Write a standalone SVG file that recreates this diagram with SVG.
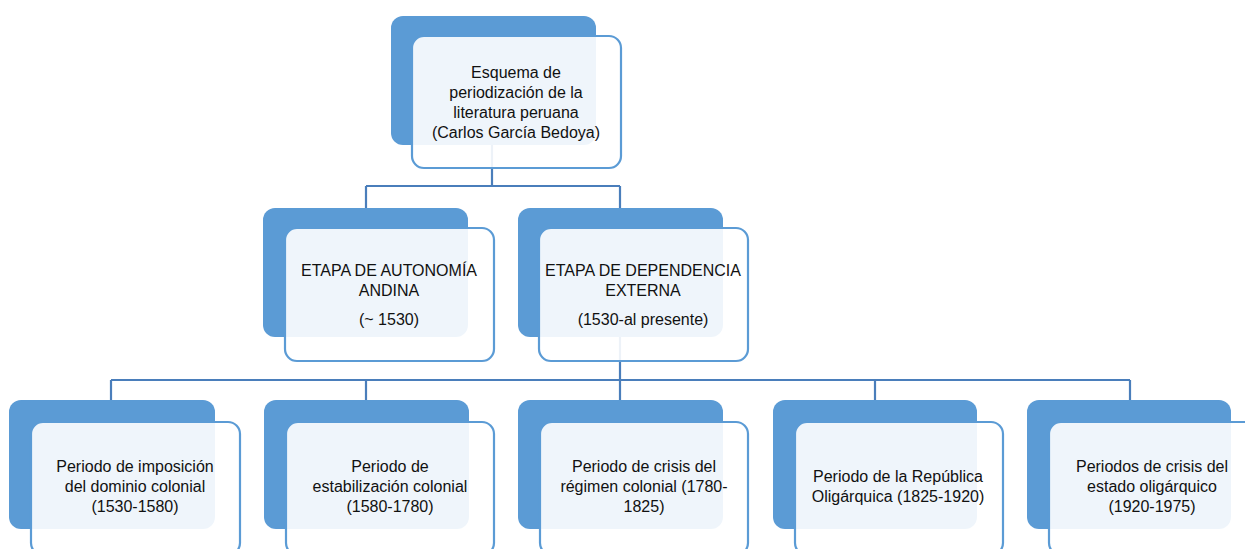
<svg xmlns="http://www.w3.org/2000/svg" width="1245" height="549" viewBox="0 0 1245 549">
<style>
.dk{fill:#5B9BD5;}
.lt{fill:#FFFFFF;fill-opacity:0.9;stroke:#5B9BD5;stroke-width:2.2;}
.cn{fill:none;stroke:#4A7EBB;stroke-width:2.2;}
text{font-family:"Liberation Sans",Arial,sans-serif;font-size:16px;fill:#111111;text-anchor:middle;}
</style>
<rect width="1245" height="549" fill="#FFFFFF"/>
<g id="connectors">
<path class="cn" d="M492,145 V186 M366,186 H620 M366,186 V209 M620,186 V209"/>
<path class="cn" d="M620,337 V380 M111,380 H1130 M111,380 V401 M366,380 V401 M620,380 V401 M875,380 V401 M1130,380 V401"/>
</g>
<g id="root">
<rect class="dk" x="391" y="16" width="205" height="129" rx="12"/>
<rect class="lt" x="412" y="36" width="209" height="132" rx="12"/>
<text x="516" y="78">Esquema de</text>
<text x="516" y="98">periodización de la</text>
<text x="516" y="118">literatura peruana</text>
<text x="516" y="138">(Carlos García Bedoya)</text>
</g>
<g id="autonomia">
<rect class="dk" x="263" y="208" width="205" height="129" rx="12"/>
<rect class="lt" x="285" y="228" width="209" height="133" rx="12"/>
<text x="389" y="276">ETAPA DE AUTONOMÍA</text>
<text x="389" y="296">ANDINA</text>
<text x="389" y="325">(~ 1530)</text>
</g>
<g id="dependencia">
<rect class="dk" x="518" y="208" width="205" height="129" rx="12"/>
<rect class="lt" x="539" y="228" width="209" height="133" rx="12"/>
<text x="643" y="276">ETAPA DE DEPENDENCIA</text>
<text x="643" y="296">EXTERNA</text>
<text x="643" y="325">(1530-al presente)</text>
</g>
<g id="imposicion">
<rect class="dk" x="9" y="400" width="206" height="129" rx="12"/>
<rect class="lt" x="31" y="422" width="209" height="133" rx="12"/>
<text x="135" y="472">Periodo de imposición</text>
<text x="135" y="492">del dominio colonial</text>
<text x="135" y="512">(1530-1580)</text>
</g>
<g id="estabilizacion">
<rect class="dk" x="264" y="400" width="205" height="129" rx="12"/>
<rect class="lt" x="286" y="422" width="208" height="133" rx="12"/>
<text x="390" y="472">Periodo de</text>
<text x="390" y="492">estabilización colonial</text>
<text x="390" y="512">(1580-1780)</text>
</g>
<g id="crisis-colonial">
<rect class="dk" x="518" y="400" width="205" height="129" rx="12"/>
<rect class="lt" x="540" y="422" width="208" height="133" rx="12"/>
<text x="644" y="472">Periodo de crisis del</text>
<text x="644" y="492">régimen colonial (1780-</text>
<text x="644" y="512">1825)</text>
</g>
<g id="republica">
<rect class="dk" x="773" y="400" width="204" height="129" rx="12"/>
<rect class="lt" x="795" y="422" width="208" height="133" rx="12"/>
<text x="898" y="482">Periodo de la República</text>
<text x="898" y="502">Oligárquica (1825-1920)</text>
</g>
<g id="crisis-oligarquico">
<rect class="dk" x="1027" y="400" width="204" height="129" rx="12"/>
<rect class="lt" x="1049" y="422" width="209" height="133" rx="12"/>
<text x="1152" y="472">Periodos de crisis del</text>
<text x="1152" y="492">estado oligárquico</text>
<text x="1152" y="512">(1920-1975)</text>
</g>
</svg>
